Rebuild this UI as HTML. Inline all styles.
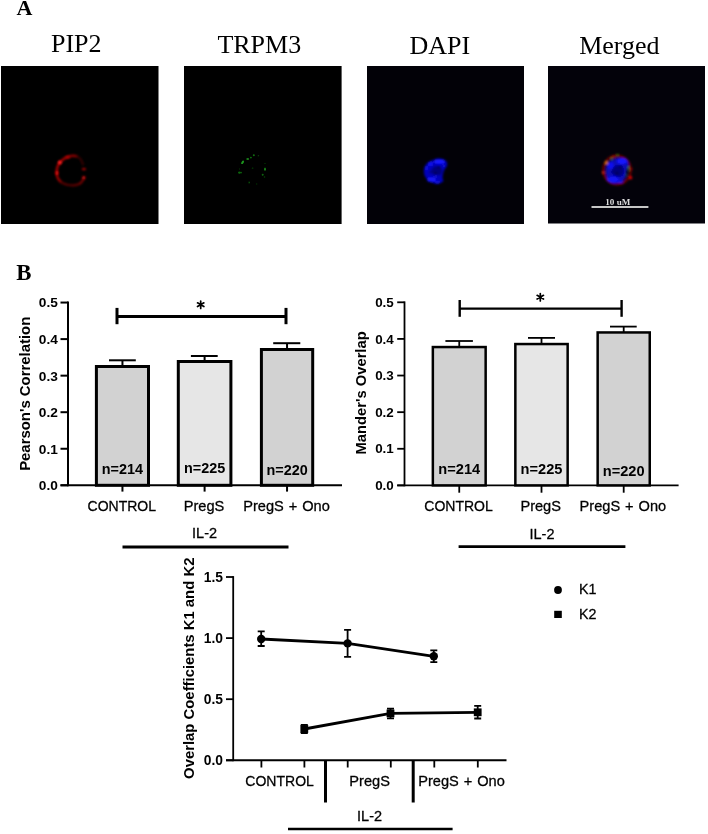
<!DOCTYPE html>
<html>
<head>
<meta charset="utf-8">
<style>
html,body{margin:0;padding:0;background:#fff;width:708px;height:834px;overflow:hidden;}
svg{display:block;position:absolute;left:0;top:0;will-change:transform;}
.c text{stroke:#000;stroke-width:0.28px;}
.c text[font-weight="bold"]{stroke-width:0;}
</style>
</head>
<body>
<svg width="708" height="834" viewBox="0 0 708 834">
<defs>
<filter id="b1" x="-50%" y="-50%" width="200%" height="200%"><feGaussianBlur stdDeviation="0.9"/></filter>
<filter id="b2" x="-50%" y="-50%" width="200%" height="200%"><feGaussianBlur stdDeviation="1.4"/></filter>
<filter id="b07" x="-50%" y="-50%" width="200%" height="200%"><feGaussianBlur stdDeviation="0.7"/></filter>
</defs>
<g font-family="Liberation Serif, serif">
<text x="16.6" y="14.9" font-size="22" font-weight="bold">A</text>
<g font-size="26" text-anchor="middle">
<text x="76.3" y="52.3">PIP2</text>
<text x="259.3" y="53">TRPM3</text>
<text x="439.9" y="53.5">DAPI</text>
<text x="619.4" y="53.7">Merged</text>
</g>
<text x="16.2" y="280.1" font-size="22.8" font-weight="bold">B</text>
</g>
<rect x="1" y="66" width="157.5" height="158" fill="#000"/>
<rect x="184" y="66" width="157.6" height="158" fill="#000"/>
<rect x="367" y="66" width="157" height="158" fill="#020107"/>
<rect x="548" y="66" width="157" height="157.5" fill="#03020a"/>
<!-- PIP2 -->
<g filter="url(#b1)" fill="none" stroke-linecap="round">
<path d="M77,156.3 C73,155.2 68,156 64,158.8" stroke="#8a0000" stroke-width="2.4"/>
<path d="M64,158.8 C58.5,162.5 56.3,167.5 56.7,173.5 C57,177.5 58.5,180 61,182" stroke="#a00000" stroke-width="2.4"/>
<path d="M61,182 C64,184.3 68,185.3 73,185.3 C76,185.2 78,184.6 80,183.5" stroke="#5e0000" stroke-width="2.2"/>
<path d="M80,183.5 C81.5,182.5 82.5,181 83.2,179.5" stroke="#7a0000" stroke-width="2"/>
<path d="M77.3,156.4 C80,157.8 82,161 83,164.5" stroke="#3a0000" stroke-width="2"/>
</g>
<g filter="url(#b1)">
<ellipse cx="59.8" cy="162.5" rx="1.9" ry="1.9" fill="#ff2020"/>
<ellipse cx="57" cy="173" rx="1.5" ry="2" fill="#dd0e0e"/>
<ellipse cx="67.5" cy="157.2" rx="2.6" ry="1.2" fill="#b00606"/>
<ellipse cx="83.8" cy="177.8" rx="1.7" ry="1.7" fill="#d80c0c"/>
<ellipse cx="83.9" cy="169.2" rx="2.2" ry="1.1" fill="#b00000"/>
</g>
<!-- TRPM3 -->
<g filter="url(#b07)" fill="#126e12">
<ellipse cx="242.6" cy="162.3" rx="1.1" ry="2" transform="rotate(35 242.6 162.3)" fill="#1e951e"/>
<ellipse cx="247.7" cy="159" rx="1.4" ry="0.9" fill="#1a7e1a"/>
<circle cx="250.9" cy="157.6" r="0.9"/>
<circle cx="253.8" cy="155.2" r="1"/>
<circle cx="258.4" cy="155.8" r="0.8" fill="#093909"/>
<circle cx="239.3" cy="172.6" r="1.2" fill="#0f670f"/>
<circle cx="241" cy="172.6" r="0.9" fill="#0f670f"/>
<ellipse cx="265" cy="169.2" rx="0.9" ry="1.6" fill="#178417"/>
<circle cx="262.7" cy="174.8" r="1" fill="#0c630c"/>
<circle cx="264.5" cy="177" r="0.8" fill="#084508"/>
<circle cx="249.2" cy="182.5" r="0.9" fill="#084508"/>
<circle cx="256.6" cy="184" r="0.8" fill="#052d05"/>
<circle cx="252.6" cy="168.2" r="0.9" fill="#052d05"/>
<circle cx="265" cy="163.5" r="0.8" fill="#052d05"/>
<circle cx="239.5" cy="169" r="0.7" fill="#052d05"/>
</g>
<!-- DAPI -->
<g filter="url(#b1)">
<path d="M436,158.8 C440,158 444.5,159 446.5,161.5 C448,164 447,166.5 445.5,168 C444,170 443.5,172 443,174 C442.5,176 442,178 443.5,181 C441,183.5 438,184 435,183.5 C431,183 428,181 426,178 C424,175.5 423.5,172 424,169 C424.8,166 426,164 428,162.5 C430,161 433,160.2 436,158.8 Z" fill="#0606b8"/>
<ellipse cx="437" cy="171" rx="5.5" ry="5" fill="#03037a"/>
<ellipse cx="439.5" cy="161.5" rx="5.5" ry="2.6" fill="#1414ff"/>
<ellipse cx="430.5" cy="163.8" rx="2.3" ry="2.2" fill="#1010f4"/>
<ellipse cx="426.5" cy="168" rx="1.8" ry="2" fill="#0c0ce0"/>
<ellipse cx="431.5" cy="179.5" rx="4.5" ry="2.6" fill="#1212f4"/>
<ellipse cx="437.5" cy="182.5" rx="2.5" ry="1.3" fill="#0e0ee8"/>
<ellipse cx="444" cy="166" rx="1.5" ry="1.6" fill="#0a0ad0"/>
<circle cx="438.9" cy="167.2" r="1.1" fill="#01013a"/>
<circle cx="435.6" cy="173.1" r="1.1" fill="#01013a"/>
<circle cx="430.6" cy="172" r="1.1" fill="#020250"/>
<ellipse cx="436" cy="176.5" rx="3" ry="1.4" fill="#0808c8"/>
</g>
<!-- Merged -->
<g filter="url(#b1)">
<ellipse cx="617" cy="170" rx="13.6" ry="14.3" fill="none" stroke="#6a0000" stroke-width="2.4"/>
<path d="M617.5,157.8 C622,157.5 627,158.5 628,161 C629.5,164 628.5,167.5 627,169 C626,171 626.5,174 625.5,177 C624,181 620,183.5 615,183.7 C611,183.6 608,181.5 606.8,178 C605.8,175 605.5,171 606,168 C606.5,164.5 608,162 611,160.5 C613,159.3 615,158.5 617.5,157.8 Z" fill="#0707b4"/>
<ellipse cx="618" cy="171" rx="6" ry="5.5" fill="#03037c"/>
<ellipse cx="622" cy="161.2" rx="5.2" ry="3" fill="#1414ff"/>
<ellipse cx="610.5" cy="165.5" rx="3.2" ry="3.4" fill="#1010f0"/>
<ellipse cx="613" cy="179.5" rx="6" ry="3.2" fill="#1212f4"/>
<ellipse cx="620" cy="181.5" rx="3" ry="1.6" fill="#0c0ce0"/>
<circle cx="620.5" cy="166.8" r="1.2" fill="#02023c"/>
<circle cx="617" cy="173" r="1.2" fill="#02023c"/>
<circle cx="612.5" cy="172" r="1.1" fill="#040460"/>
<ellipse cx="606.3" cy="162.7" rx="1.6" ry="1.8" fill="#e07010"/>
<ellipse cx="603.2" cy="172.6" rx="1.4" ry="1.7" fill="#d02010"/>
<ellipse cx="630.6" cy="177.7" rx="1.7" ry="1.7" fill="#d80000"/>
<ellipse cx="631" cy="168.9" rx="1.5" ry="1" fill="#b00000"/>
<ellipse cx="613.5" cy="156.8" rx="2.6" ry="1" fill="#a81800"/>
<circle cx="617.5" cy="154.7" r="0.8" fill="#40b020"/>
<circle cx="611.6" cy="158.8" r="0.8" fill="#70a020"/>
<circle cx="628.5" cy="167.5" r="0.8" fill="#50b020"/>
<circle cx="628.8" cy="170" r="0.7" fill="#40a040"/>
<circle cx="626.2" cy="174.9" r="0.7" fill="#208080"/>
</g>
<!-- scale bar -->
<text x="617.8" y="204.9" text-anchor="middle" font-family="Liberation Serif, serif" font-weight="bold" font-size="9.1" fill="#dcdcdc">10 uM</text>
<line x1="591.5" y1="207" x2="648.4" y2="207" stroke="#c6c6c6" stroke-width="2"/>

<g class="c" font-family="Liberation Sans, sans-serif" fill="#000">
<line x1="68" y1="301.55" x2="68" y2="486.3" stroke="#000" stroke-width="2"/>
<line x1="60.5" y1="485.3" x2="68" y2="485.3" stroke="#000" stroke-width="2"/>
<text x="57.8" y="490.2" text-anchor="end" font-size="13.7" font-weight="bold">0.0</text>
<line x1="60.5" y1="448.75" x2="68" y2="448.75" stroke="#000" stroke-width="2"/>
<text x="57.8" y="453.65" text-anchor="end" font-size="13.7" font-weight="bold">0.1</text>
<line x1="60.5" y1="412.2" x2="68" y2="412.2" stroke="#000" stroke-width="2"/>
<text x="57.8" y="417.1" text-anchor="end" font-size="13.7" font-weight="bold">0.2</text>
<line x1="60.5" y1="375.65" x2="68" y2="375.65" stroke="#000" stroke-width="2"/>
<text x="57.8" y="380.55" text-anchor="end" font-size="13.7" font-weight="bold">0.3</text>
<line x1="60.5" y1="339.1" x2="68" y2="339.1" stroke="#000" stroke-width="2"/>
<text x="57.8" y="344" text-anchor="end" font-size="13.7" font-weight="bold">0.4</text>
<line x1="60.5" y1="302.55" x2="68" y2="302.55" stroke="#000" stroke-width="2"/>
<text x="57.8" y="307.45" text-anchor="end" font-size="13.7" font-weight="bold">0.5</text>
<line x1="60.5" y1="485.3" x2="342" y2="485.3" stroke="#000" stroke-width="2"/>
<line x1="122.45" y1="360.3" x2="122.45" y2="366" stroke="#000" stroke-width="2"/>
<line x1="109" y1="360.3" x2="135.8" y2="360.3" stroke="#000" stroke-width="2"/>
<rect x="96.4" y="366.5" width="52.1" height="118.8" fill="#d2d2d2" stroke="#000" stroke-width="3"/>
<text x="122.45" y="474.4" text-anchor="middle" font-size="14.4" font-weight="bold">n=214</text>
<line x1="122.45" y1="485.3" x2="122.45" y2="491.6" stroke="#000" stroke-width="2"/>
<line x1="204.6" y1="356" x2="204.6" y2="361" stroke="#000" stroke-width="2"/>
<line x1="190.9" y1="356" x2="217.7" y2="356" stroke="#000" stroke-width="2"/>
<rect x="178.3" y="361.5" width="52.6" height="123.8" fill="#e6e6e6" stroke="#000" stroke-width="3"/>
<text x="204.6" y="472.7" text-anchor="middle" font-size="14.4" font-weight="bold">n=225</text>
<line x1="204.6" y1="485.3" x2="204.6" y2="491.6" stroke="#000" stroke-width="2"/>
<line x1="287.05" y1="343.2" x2="287.05" y2="349" stroke="#000" stroke-width="2"/>
<line x1="273.2" y1="343.2" x2="300.3" y2="343.2" stroke="#000" stroke-width="2"/>
<rect x="261.4" y="349.5" width="51.3" height="135.8" fill="#d2d2d2" stroke="#000" stroke-width="3"/>
<text x="287.05" y="474.9" text-anchor="middle" font-size="14.4" font-weight="bold">n=220</text>
<line x1="287.05" y1="485.3" x2="287.05" y2="491.6" stroke="#000" stroke-width="2"/>
<text x="121.8" y="510.8" text-anchor="middle" font-size="14" word-spacing="0">CONTROL</text>
<text x="204" y="510.8" text-anchor="middle" font-size="14.6" word-spacing="0">PregS</text>
<text x="286.5" y="510.8" text-anchor="middle" font-size="14.6" word-spacing="0.9">PregS + Ono</text>
<text x="204.6" y="537.9" text-anchor="middle" font-size="14.5">IL-2</text>
<line x1="122.5" y1="547" x2="288.5" y2="547" stroke="#000" stroke-width="2.8"/>
<line x1="117" y1="316.4" x2="286" y2="316.4" stroke="#000" stroke-width="3"/>
<line x1="117" y1="307.9" x2="117" y2="324.2" stroke="#000" stroke-width="3"/>
<line x1="286" y1="307.9" x2="286" y2="324.2" stroke="#000" stroke-width="3"/>
<path d="M200.7,301L200.7,308.4M197.5,302.85L203.9,306.55M197.5,306.55L203.9,302.85" stroke="#000" stroke-width="1.7" stroke-linecap="round" fill="none"/><circle cx="200.7" cy="304.7" r="1.5" fill="#000"/>
<text x="29.6" y="393.8" transform="rotate(-90 29.6 393.8)" text-anchor="middle" font-size="14.9" font-weight="bold">Pearson's Correlation</text>
<line x1="404.5" y1="301.4" x2="404.5" y2="486.3" stroke="#000" stroke-width="1.8"/>
<line x1="397.2" y1="485.4" x2="404.5" y2="485.4" stroke="#000" stroke-width="1.8"/>
<text x="393.8" y="490.1" text-anchor="end" font-size="13.4" font-weight="bold">0.0</text>
<line x1="397.2" y1="448.78" x2="404.5" y2="448.78" stroke="#000" stroke-width="1.8"/>
<text x="393.8" y="453.48" text-anchor="end" font-size="13.4" font-weight="bold">0.1</text>
<line x1="397.2" y1="412.16" x2="404.5" y2="412.16" stroke="#000" stroke-width="1.8"/>
<text x="393.8" y="416.86" text-anchor="end" font-size="13.4" font-weight="bold">0.2</text>
<line x1="397.2" y1="375.54" x2="404.5" y2="375.54" stroke="#000" stroke-width="1.8"/>
<text x="393.8" y="380.24" text-anchor="end" font-size="13.4" font-weight="bold">0.3</text>
<line x1="397.2" y1="338.92" x2="404.5" y2="338.92" stroke="#000" stroke-width="1.8"/>
<text x="393.8" y="343.62" text-anchor="end" font-size="13.4" font-weight="bold">0.4</text>
<line x1="397.2" y1="302.3" x2="404.5" y2="302.3" stroke="#000" stroke-width="1.8"/>
<text x="393.8" y="307" text-anchor="end" font-size="13.4" font-weight="bold">0.5</text>
<line x1="397.2" y1="485.4" x2="678.6" y2="485.4" stroke="#000" stroke-width="1.8"/>
<line x1="459.25" y1="341" x2="459.25" y2="346.8" stroke="#000" stroke-width="1.8"/>
<line x1="445.4" y1="341" x2="472.9" y2="341" stroke="#000" stroke-width="1.8"/>
<rect x="432.85" y="347.05" width="52.8" height="138.35" fill="#d2d2d2" stroke="#000" stroke-width="2.5"/>
<text x="459.25" y="474.2" text-anchor="middle" font-size="14.6" font-weight="bold">n=214</text>
<line x1="459.25" y1="485.4" x2="459.25" y2="492.7" stroke="#000" stroke-width="1.8"/>
<line x1="541.5" y1="337.9" x2="541.5" y2="343.8" stroke="#000" stroke-width="1.8"/>
<line x1="528" y1="337.9" x2="555" y2="337.9" stroke="#000" stroke-width="1.8"/>
<rect x="515.35" y="344.05" width="52.3" height="141.35" fill="#e6e6e6" stroke="#000" stroke-width="2.5"/>
<text x="541.5" y="473.5" text-anchor="middle" font-size="14.6" font-weight="bold">n=225</text>
<line x1="541.5" y1="485.4" x2="541.5" y2="492.7" stroke="#000" stroke-width="1.8"/>
<line x1="623.7" y1="326.6" x2="623.7" y2="332.2" stroke="#000" stroke-width="1.8"/>
<line x1="610" y1="326.6" x2="636.7" y2="326.6" stroke="#000" stroke-width="1.8"/>
<rect x="597.65" y="332.45" width="52.1" height="152.95" fill="#d2d2d2" stroke="#000" stroke-width="2.5"/>
<text x="623.7" y="475.5" text-anchor="middle" font-size="14.6" font-weight="bold">n=220</text>
<line x1="623.7" y1="485.4" x2="623.7" y2="492.7" stroke="#000" stroke-width="1.8"/>
<text x="458.5" y="511" text-anchor="middle" font-size="14" word-spacing="0">CONTROL</text>
<text x="540.7" y="511" text-anchor="middle" font-size="14.6" word-spacing="0">PregS</text>
<text x="622.9" y="511" text-anchor="middle" font-size="14.6" word-spacing="0.9">PregS + Ono</text>
<text x="542" y="538.8" text-anchor="middle" font-size="14.5">IL-2</text>
<line x1="458.6" y1="546.7" x2="625.4" y2="546.7" stroke="#000" stroke-width="2.8"/>
<line x1="459.7" y1="308.6" x2="621.6" y2="308.6" stroke="#000" stroke-width="2.4"/>
<line x1="459.7" y1="300" x2="459.7" y2="316.8" stroke="#000" stroke-width="2.4"/>
<line x1="621.6" y1="300" x2="621.6" y2="316.8" stroke="#000" stroke-width="2.4"/>
<path d="M540.3,293.5L540.3,300.9M537.1,295.35L543.5,299.05M537.1,299.05L543.5,295.35" stroke="#000" stroke-width="1.7" stroke-linecap="round" fill="none"/><circle cx="540.3" cy="297.2" r="1.5" fill="#000"/>
<text x="366" y="392.9" transform="rotate(-90 366 392.9)" text-anchor="middle" font-size="14.75" font-weight="bold">Mander's Overlap</text>
<line x1="233.2" y1="576.1" x2="233.2" y2="761.2" stroke="#000" stroke-width="1.8"/>
<line x1="226" y1="760.3" x2="233.2" y2="760.3" stroke="#000" stroke-width="1.8"/>
<text x="223" y="765.3" text-anchor="end" font-size="13.8" font-weight="bold">0.0</text>
<line x1="226" y1="699.2" x2="233.2" y2="699.2" stroke="#000" stroke-width="1.8"/>
<text x="223" y="704.2" text-anchor="end" font-size="13.8" font-weight="bold">0.5</text>
<line x1="226" y1="638.1" x2="233.2" y2="638.1" stroke="#000" stroke-width="1.8"/>
<text x="223" y="643.1" text-anchor="end" font-size="13.8" font-weight="bold">1.0</text>
<line x1="226" y1="577" x2="233.2" y2="577" stroke="#000" stroke-width="1.8"/>
<text x="223" y="582" text-anchor="end" font-size="13.8" font-weight="bold">1.5</text>
<line x1="226" y1="760.3" x2="506.5" y2="760.3" stroke="#000" stroke-width="2"/>
<line x1="261.4" y1="760.3" x2="261.4" y2="767.5" stroke="#000" stroke-width="1.8"/>
<line x1="304.4" y1="760.3" x2="304.4" y2="767.5" stroke="#000" stroke-width="1.8"/>
<line x1="347.7" y1="760.3" x2="347.7" y2="767.5" stroke="#000" stroke-width="1.8"/>
<line x1="390.8" y1="760.3" x2="390.8" y2="767.5" stroke="#000" stroke-width="1.8"/>
<line x1="434.3" y1="760.3" x2="434.3" y2="767.5" stroke="#000" stroke-width="1.8"/>
<line x1="477.8" y1="760.3" x2="477.8" y2="767.5" stroke="#000" stroke-width="1.8"/>
<line x1="325.5" y1="760.3" x2="325.5" y2="802.5" stroke="#000" stroke-width="3"/>
<line x1="413.2" y1="760.3" x2="413.2" y2="802.5" stroke="#000" stroke-width="3"/>
<text x="279.6" y="786.4" text-anchor="middle" font-size="14" word-spacing="0">CONTROL</text>
<text x="369.6" y="786.4" text-anchor="middle" font-size="14.6" word-spacing="0">PregS</text>
<text x="461.5" y="786.4" text-anchor="middle" font-size="14.6" word-spacing="0.9">PregS + Ono</text>
<text x="369.6" y="820.5" text-anchor="middle" font-size="14.5">IL-2</text>
<line x1="288" y1="829" x2="452.6" y2="829" stroke="#000" stroke-width="2.5"/>
<polyline points="261.2,639 347.6,643.4 433.8,656.3" fill="none" stroke="#000" stroke-width="2.8"/>
<path d="M261.2,631.3V646M257.7,631.3H264.7M257.7,646H264.7" stroke="#000" stroke-width="1.8" fill="none"/>
<circle cx="261.2" cy="639" r="4.2" fill="#000"/>
<path d="M347.6,629.8V656.9M344.1,629.8H351.1M344.1,656.9H351.1" stroke="#000" stroke-width="1.8" fill="none"/>
<circle cx="347.6" cy="643.4" r="4.2" fill="#000"/>
<path d="M433.8,650.4V662.2M430.3,650.4H437.3M430.3,662.2H437.3" stroke="#000" stroke-width="1.8" fill="none"/>
<circle cx="433.8" cy="656.3" r="4.2" fill="#000"/>
<polyline points="304.3,729 390.5,713.4 477.7,712.3" fill="none" stroke="#000" stroke-width="2.8"/>
<path d="M304.3,724.9V733M300.8,724.9H307.8M300.8,733H307.8" stroke="#000" stroke-width="1.8" fill="none"/>
<rect x="300.4" y="725.1" width="7.8" height="7.8" fill="#000"/>
<path d="M390.5,708.6V718.3M387,708.6H394M387,718.3H394" stroke="#000" stroke-width="1.8" fill="none"/>
<rect x="386.6" y="709.5" width="7.8" height="7.8" fill="#000"/>
<path d="M477.7,705.8V718.5M474.2,705.8H481.2M474.2,718.5H481.2" stroke="#000" stroke-width="1.8" fill="none"/>
<rect x="473.8" y="708.4" width="7.8" height="7.8" fill="#000"/>
<circle cx="558" cy="590" r="3.9" fill="#000"/>
<rect x="554.2" y="610.8" width="7.6" height="7.2" fill="#000"/>
<text x="579" y="594.4" font-size="14.3">K1</text>
<text x="579" y="618.7" font-size="14.3">K2</text>
<text x="194.3" y="668.25" transform="rotate(-90 194.3 668.25)" text-anchor="middle" font-size="14.87" font-weight="bold">Overlap Coefficients K1 and K2</text>
</g>
</svg>
</body>
</html>
